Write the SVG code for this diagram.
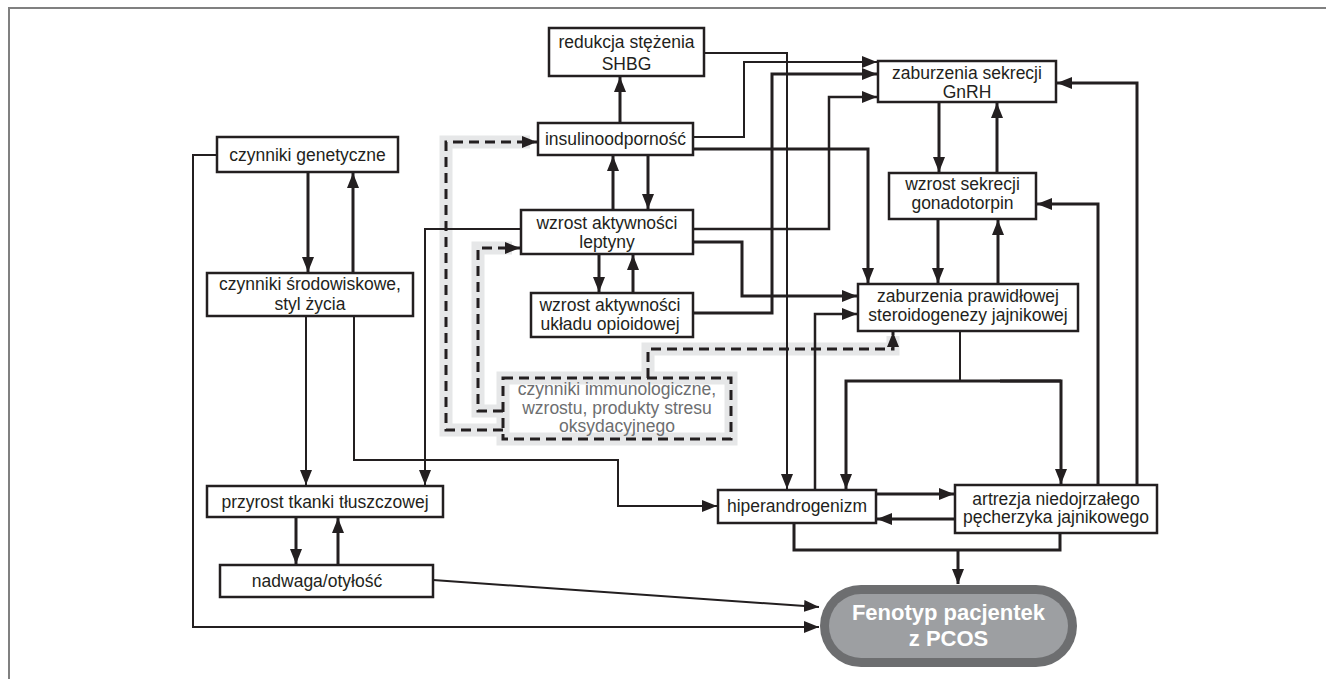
<svg xmlns="http://www.w3.org/2000/svg" width="1326" height="679" viewBox="0 0 1326 679">
<defs>
<marker id="ah" markerUnits="userSpaceOnUse" markerWidth="15" markerHeight="12" refX="15" refY="6" orient="auto">
<path d="M0,0 L15,6 L0,12 Z" fill="#231f20"/>
</marker>
<style>
.bx{fill:#fff;stroke:#231f20;stroke-width:2.5}
.t{font-family:"Liberation Sans",Arial,sans-serif;font-size:17.5px;fill:#231f20;text-anchor:middle}
.tg{fill:#6d6e70}
.c{fill:none;stroke:#231f20;stroke-width:2;stroke-linejoin:miter}
.k{stroke-width:3}
.m{stroke-width:2.5}
.a{marker-end:url(#ah)}
.halo{fill:none;stroke:#e6e7e8;stroke-width:13}
.d{fill:none;stroke:#231f20;stroke-width:3;stroke-dasharray:10,6}
</style>
</defs>
<path d="M9,679 V8 H1326" fill="none" stroke="#808080" stroke-width="2"/>

<g id="halos">
<path class="halo" d="M503,430 H446 V142 H530"/>
<path class="halo" d="M503,411 H478 V248 H512"/>
<path class="halo" d="M648,378 V349 H893 V336"/>
<rect class="halo" x="503" y="378" width="228" height="61"/>
</g>

<g id="connectors">
<path class="c k a" d="M308,172 V272"/>
<path class="c k a" d="M353,273 V173"/>
<path class="c a" d="M306,316 V485"/>
<path class="c a" d="M354,316 V460 H618 V506 H717"/>
<path class="c a" d="M521,229 H425 V485"/>
<path class="c k a" d="M296,517 V564"/>
<path class="c k a" d="M338,565 V518"/>
<path class="c a" d="M433,580 L819,607"/>
<path class="c a" d="M217,155 H193 V627 H819"/>
<path class="c k a" d="M620,123 V77"/>
<path class="c k a" d="M613,210 V156"/>
<path class="c k a" d="M648,155 V209"/>
<path class="c k a" d="M599,254 V292"/>
<path class="c k a" d="M633,293 V255"/>
<path class="c a" d="M704,53 H787 V489"/>
<path class="c a" d="M693,137 H744 V62 H877"/>
<path class="c k a" d="M693,313 H772 V74 H877"/>
<path class="c m a" d="M693,229 H829 V97 H877"/>
<path class="c k a" d="M693,149 H868 V283"/>
<path class="c k a" d="M693,242 H742 V296 H857"/>
<path class="c m a" d="M815,490 V314 H857"/>
<path class="c" d="M960,331 V381"/>
<path class="c k a" d="M1061,381 H846 V489"/>
<path class="c k a" d="M1000,381 H1061 V484"/>
<path class="c k a" d="M876,494 H954"/>
<path class="c k a" d="M955,519 H877"/>
<path class="c k" d="M794,523 V550 H1060 V533"/>
<path class="c k a" d="M958,550 V584"/>
<path class="c k a" d="M1098,485 V204 H1037"/>
<path class="c k a" d="M1137,485 V83 H1057"/>
<path class="c k a" d="M939,102 V172"/>
<path class="c k a" d="M997,173 V103"/>
<path class="c k a" d="M938,219 V283"/>
<path class="c k a" d="M998,284 V220"/>
<path class="d a" d="M503,430 H446 V142 H537"/>
<path class="d a" d="M503,411 H478 V248 H520"/>
<path class="d a" d="M648,378 V349 H893 V332"/>
</g>

<g id="shbg"><rect class="bx" x="549" y="28" width="155" height="48"/><text class="t" x="626.5" y="47.5">redukcja stężenia</text><text class="t" x="626.5" y="69.5">SHBG</text></g>
<g id="insulino"><rect class="bx" x="538" y="123" width="155" height="32"/><text class="t" x="615.5" y="145">insulinoodporność</text></g>
<g id="gnrh"><rect class="bx" x="878" y="61" width="178" height="41"/><text class="t" x="967" y="79">zaburzenia sekrecji</text><text class="t" x="967" y="98">GnRH</text></g>
<g id="gonado"><rect class="bx" x="889" y="173" width="147" height="46"/><text class="t" x="962.5" y="190">wzrost sekrecji</text><text class="t" x="962.5" y="209">gonadotorpin</text></g>
<g id="steroid"><rect class="bx" x="858" y="284" width="220" height="47"/><text class="t" x="968" y="302">zaburzenia prawidłowej</text><text class="t" x="968" y="321">steroidogenezy jajnikowej</text></g>
<g id="genetyczne"><rect class="bx" x="217" y="137" width="181" height="35"/><text class="t" x="307.5" y="161">czynniki genetyczne</text></g>
<g id="srodowiskowe"><rect class="bx" x="207" y="273" width="206" height="43"/><text class="t" x="310" y="290">czynniki środowiskowe,</text><text class="t" x="310" y="310">styl życia</text></g>
<g id="leptyny"><rect class="bx" x="521" y="210" width="172" height="44"/><text class="t" x="607" y="229">wzrost aktywności</text><text class="t" x="607" y="248">leptyny</text></g>
<g id="opioid"><rect class="bx" x="531" y="293" width="162" height="44"/><text class="t" x="610" y="311">wzrost aktywności</text><text class="t" x="610" y="330">układu opioidowej</text></g>
<g id="immuno"><rect x="503" y="378" width="228" height="61" fill="#fff" class="d"/><text class="t tg" x="617" y="395">czynniki immunologiczne,</text><text class="t tg" x="617" y="413.5">wzrostu, produkty stresu</text><text class="t tg" x="617" y="432">oksydacyjnego</text></g>
<g id="przyrost"><rect class="bx" x="207" y="486" width="236" height="31"/><text class="t" x="325" y="508">przyrost tkanki tłuszczowej</text></g>
<g id="nadwaga"><rect class="bx" x="220" y="565" width="213" height="32"/><text class="t" x="317" y="587">nadwaga/otyłość</text></g>
<g id="hiper"><rect class="bx" x="718" y="490" width="158" height="33"/><text class="t" x="797" y="512">hiperandrogenizm</text></g>
<g id="artrezja"><rect class="bx" x="955" y="485" width="202" height="48"/><text class="t" x="1056" y="505">artrezja niedojrzałego</text><text class="t" x="1056" y="523">pęcherzyka jajnikowego</text></g>
<g id="fenotyp"><rect x="820" y="585" width="257" height="82" rx="41" fill="#6d6e70"/><rect x="829" y="594" width="239" height="64" rx="32" fill="#9d9fa2"/><text class="t" x="948.5" y="620" style="font-weight:bold;font-size:22px;fill:#fff">Fenotyp pacjentek</text><text class="t" x="948.5" y="646" style="font-weight:bold;font-size:22px;fill:#fff">z PCOS</text></g>
</svg>
